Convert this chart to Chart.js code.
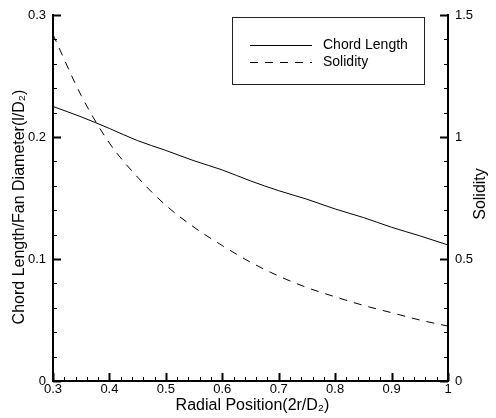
<!DOCTYPE html>
<html>
<head>
<meta charset="utf-8">
<script src="https://cdn.jsdelivr.net/npm/chart.js@4.4.1/dist/chart.umd.min.js"></script>
<style>
  html, body { margin: 0; padding: 0; background: #fff; }
  #wrap { width: 496px; height: 418px; position: relative; }
</style>
</head>
<body>
<div id="wrap"><canvas id="myChart" width="496" height="418"></canvas></div>
<script>
// values
const radialPosition = [0.30, 0.35, 0.40, 0.45, 0.50, 0.55, 0.60, 0.65, 0.70, 0.75, 0.80, 0.85, 0.90, 0.95, 1.00];
const chordLength = [0.225, 0.2165, 0.207, 0.197, 0.189, 0.1805, 0.173, 0.164, 0.156, 0.149, 0.141, 0.134, 0.126, 0.119, 0.1115];
const solidity = [1.42, 1.17, 0.975, 0.835, 0.72, 0.63, 0.555, 0.487, 0.43, 0.383, 0.345, 0.31, 0.28, 0.25, 0.225];

const leftTicks = [0, 0.1, 0.2, 0.3];
const rightTicks = [0, 0.5, 1, 1.5];
const xTicks = [0.3, 0.4, 0.5, 0.6, 0.7, 0.8, 0.9, 1];

const FONT = "'Liberation Sans', Arial, Helvetica, sans-serif";
const DASH = [8, 7];

function toPoints(xs, ys) {
    return xs.map((x, i) => ({ x: x, y: ys[i] }));
}

function fmt(v) {
    return String(+v.toFixed(2));
}

// inward tick marks, drawn from the library's own scales
const tickMarks = {
    id: 'tickMarks',
    afterDraw(chart) {
        const ctx = chart.ctx;
        const a = chart.chartArea;
        const x = chart.scales.x, y = chart.scales.y, y1 = chart.scales.y1;
        ctx.save();
        ctx.strokeStyle = '#000';

        // bottom axis: major 0.1, minor 0.02
        for (let i = 0; i <= 35; i++) {
            const v = 0.3 + i * 0.02;
            const px = Math.round(x.getPixelForValue(v)) + 0.5;
            const major = i % 5 === 0;
            ctx.lineWidth = major ? 2 : 1;
            ctx.beginPath();
            ctx.moveTo(px, a.bottom);
            ctx.lineTo(px, a.bottom - (major ? 8 : 4));
            ctx.stroke();
        }
        // left axis: major 0.1, minor 0.02
        for (let i = 0; i <= 15; i++) {
            const v = i * 0.02;
            const py = Math.round(y.getPixelForValue(v)) + 0.5;
            const major = i % 5 === 0;
            ctx.lineWidth = major ? 2 : 1;
            ctx.beginPath();
            ctx.moveTo(a.left, py);
            ctx.lineTo(a.left + (major ? 8 : 4), py);
            ctx.stroke();
        }
        // right axis: major 0.5, minor 0.1
        for (let i = 0; i <= 15; i++) {
            const v = i * 0.1;
            const py = Math.round(y1.getPixelForValue(v)) + 0.5;
            const major = i % 5 === 0;
            ctx.lineWidth = major ? 2 : 1;
            ctx.beginPath();
            ctx.moveTo(a.right, py);
            ctx.lineTo(a.right - (major ? 8 : 4), py);
            ctx.stroke();
        }
        ctx.restore();
    }
};

// axis titles and the boxed legend
const titlesAndLegend = {
    id: 'titlesAndLegend',
    afterDraw(chart) {
        const ctx = chart.ctx;
        const a = chart.chartArea;
        const midY = (a.top + a.bottom) / 2;
        ctx.save();
        ctx.fillStyle = '#000';
        ctx.font = '16px ' + FONT;
        ctx.textAlign = 'center';
        ctx.textBaseline = 'middle';

        ctx.fillText('Radial Position(2r/D\u2082)', (a.left + a.right) / 2 + 2, 406);

        ctx.save();
        ctx.translate(20, midY + 9);
        ctx.rotate(-Math.PI / 2);
        ctx.fillText('Chord Length/Fan Diameter(l/D\u2082)', 0, 0);
        ctx.restore();

        ctx.save();
        ctx.translate(481, midY - 4);
        ctx.rotate(-Math.PI / 2);
        ctx.fillText('Solidity', 0, 0);
        ctx.restore();

        // legend box
        ctx.strokeStyle = '#222';
        ctx.lineWidth = 1;
        ctx.strokeRect(232.5, 17.5, 192, 67);

        const ds = chart.data.datasets;
        const rows = [45, 62];
        ctx.font = '14px ' + FONT;
        ctx.textAlign = 'left';
        ds.forEach((d, i) => {
            ctx.setLineDash(d.borderDash || []);
            ctx.strokeStyle = d.borderColor;
            ctx.lineWidth = d.borderWidth;
            ctx.beginPath();
            ctx.moveTo(250, rows[i] + 0.5);
            ctx.lineTo(312, rows[i] + 0.5);
            ctx.stroke();
            ctx.setLineDash([]);
            ctx.fillText(d.label, 323, rows[i]);
        });
        ctx.restore();
    }
};

const tickFont = { family: FONT, size: 13 };

new Chart(document.getElementById('myChart'), {
    type: 'line',
    data: {
        datasets: [{
            label: 'Chord Length',
            data: toPoints(radialPosition, chordLength),
            yAxisID: 'y',
            borderColor: '#000',
            borderWidth: 1,
            pointRadius: 0,
            cubicInterpolationMode: 'monotone',
            fill: false
        }, {
            label: 'Solidity',
            data: toPoints(radialPosition, solidity),
            yAxisID: 'y1',
            borderColor: '#000',
            borderWidth: 1,
            borderDash: DASH,
            pointRadius: 0,
            cubicInterpolationMode: 'monotone',
            fill: false
        }]
    },
    options: {
        responsive: false,
        animation: false,
        layout: { padding: { top: 15, left: 0, right: 0, bottom: 0 } },
        plugins: {
            legend: { display: false },
            tooltip: { enabled: false }
        },
        scales: {
            x: {
                type: 'linear',
                min: 0.3,
                max: 1,
                afterBuildTicks(s) { s.ticks = xTicks.map(v => ({ value: v })); },
                afterFit(s) { s.height = 37; },
                grid: { display: false, drawTicks: false },
                border: { display: true, color: '#000', width: 2 },
                ticks: { color: '#000', font: tickFont, padding: 1, maxRotation: 0, autoSkip: false, callback: fmt }
            },
            y: {
                type: 'linear',
                position: 'left',
                min: 0,
                max: 0.3,
                afterBuildTicks(s) { s.ticks = leftTicks.map(v => ({ value: v })); },
                afterFit(s) { s.width = 53; },
                grid: { display: false, drawTicks: false },
                border: { display: true, color: '#000', width: 2 },
                ticks: { color: '#000', font: tickFont, padding: 7, callback: fmt }
            },
            y1: {
                type: 'linear',
                position: 'right',
                min: 0,
                max: 1.5,
                afterBuildTicks(s) { s.ticks = rightTicks.map(v => ({ value: v })); },
                afterFit(s) { s.width = 48; },
                grid: { display: false, drawTicks: false },
                border: { display: true, color: '#000', width: 2 },
                ticks: { color: '#000', font: tickFont, padding: 7, callback: fmt }
            }
        }
    },
    plugins: [tickMarks, titlesAndLegend]
});
</script>
</body>
</html>
